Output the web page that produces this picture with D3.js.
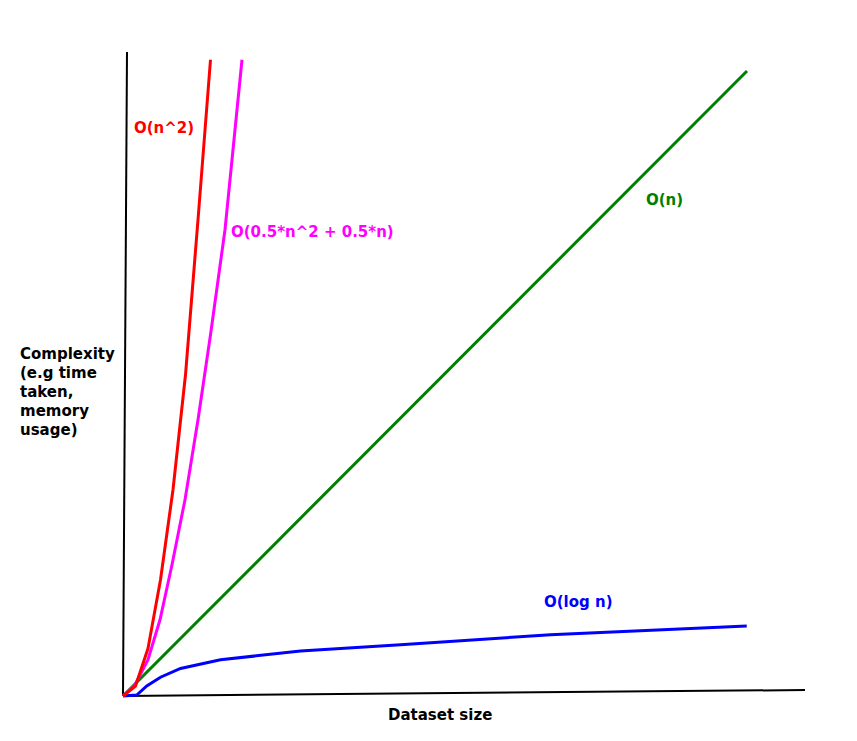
<!DOCTYPE html><html><head><meta charset="utf-8"><script src="https://cdn.jsdelivr.net/npm/d3@7"></script>
<style>body{margin:0;background:#fff}text{font-family:"DejaVu Sans";font-weight:bold;font-size:15px}</style></head><body>
<svg id="c" width="857" height="741"></svg>
<script>
const redN=[0,1,2,3,4,5,6,7], redV=[0,0.8,3.8,9.3,16.5,25.7,38.1,50.9];
const magN=[0,0.96,2,2.96,3.92,4.96,6,7.0,8.16,9.52], magV=[0,0.9,2.9,6.1,10.5,15.7,22.1,28.9,37.3,50.9];
const grnN=[0,49.92], grnV=[0,50];
const bluN=[0,1.1,1.9,3,4.6,7.8,14.2,22.2,34.2,49.9], bluV=[0,0.08,0.8,1.5,2.2,2.9,3.6,4.1,4.9,5.6];
const svg=d3.select("#c");
const x=d3.scaleLinear().domain([0,10]).range([123,248]);
const y=d3.scaleLinear().domain([0,10]).range([696,571]);
const line=d3.line().x(d=>x(d[0])).y(d=>y(d[1]));
function draw(N,V,c){svg.append("path").attr("d",line(N.map((n,i)=>[n,V[i]]))).attr("fill","none").attr("stroke",c).attr("stroke-width",3);}
svg.append("line").attr("x1",123).attr("y1",696).attr("x2",805).attr("y2",690).attr("stroke","#000").attr("stroke-width",2);
svg.append("line").attr("x1",123).attr("y1",696).attr("x2",127).attr("y2",52).attr("stroke","#000").attr("stroke-width",2);
draw(grnN,grnV,"green");draw(bluN,bluV,"blue");draw(magN,magV,"magenta");draw(redN,redV,"red");
const t=(s,xx,yy,c)=>svg.append("text").attr("x",xx).attr("y",yy).attr("fill",c).text(s);
t("O(n^2)",134,133,"red");t("O(0.5*n^2 + 0.5*n)",231,237,"magenta");t("O(n)",646,205,"green");t("O(log n)",544,607,"blue");
t("Dataset size",388,720,"#000");
["Complexity","(e.g time","taken,","memory","usage)"].forEach((s,i)=>t(s,20,359+i*19,"#000"));
</script></body></html>
